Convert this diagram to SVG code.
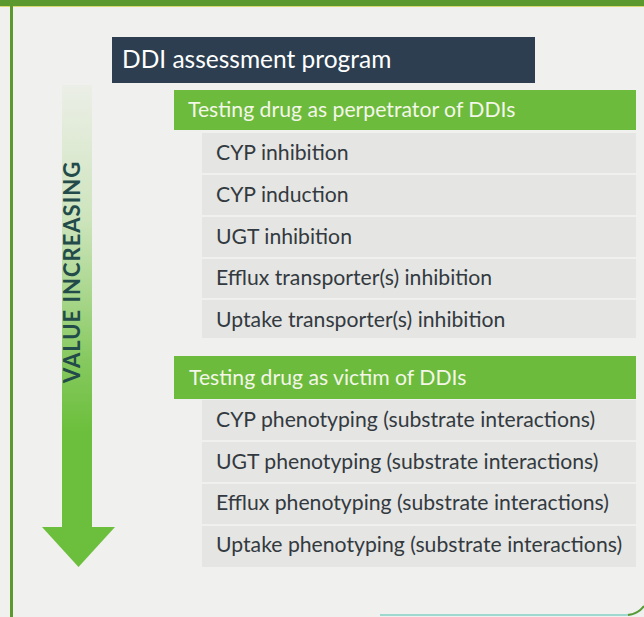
<svg xmlns="http://www.w3.org/2000/svg" width="644" height="617" viewBox="0 0 644 617">
  <defs>
    <linearGradient id="shaftFade" x1="0" y1="0" x2="0" y2="1">
      <stop offset="0" stop-color="#8fd05a" stop-opacity="0.05"/>
      <stop offset="0.3" stop-color="#7cc84a" stop-opacity="0.3"/>
      <stop offset="0.62" stop-color="#6cbf3c" stop-opacity="0.8"/>
      <stop offset="0.78" stop-color="#6cbf3c"/>
      <stop offset="1" stop-color="#6cbf3c"/>
    </linearGradient>
    <style>
      .head { fill: #2c3e50; }
      .band { fill: #6cbb3c; }
      .bandText { font-family: Lato, "Noto Sans", sans-serif; font-size: 21.2px; fill: #f3f6e8; }
      .headText { font-family: Lato, "Noto Sans", sans-serif; font-size: 24.5px; fill: #ffffff; }
      .row { fill: #e5e5e3; }
      .rowText { font-family: Lato, "Noto Sans", sans-serif; font-size: 21.2px; fill: #333a3f; }
      .axisText { font-family: Lato, "Noto Sans", sans-serif; font-size: 22px; font-weight: bold; fill: #234b4a; letter-spacing: 1px; }
    </style>
  </defs>

  <!-- page -->
  <rect x="0" y="0" width="644" height="617" fill="#f0f0ee"/>
  <rect x="0" y="0" width="644" height="6" fill="#5b992e"/>
  <rect x="0" y="6" width="644" height="1" fill="#d8d870"/>
  <rect x="10" y="6" width="3" height="611" fill="#5b992e"/>
  <path d="M 380 615 H 626 Q 638 615 644 606" fill="none" stroke="#9fd8cf" stroke-width="2"/>
  <path d="M 628 615 Q 638 614 644 606" fill="none" stroke="#5b992e" stroke-width="2"/>

  <!-- value axis arrow -->
  <g id="value-arrow">
    <rect x="62" y="85" width="30" height="444" fill="url(#shaftFade)"/>
    <polygon points="42,527 115,527 78.5,567" fill="#6cbf3c"/>
    <text class="axisText" transform="translate(80,272) rotate(-90)" text-anchor="middle">VALUE INCREASING</text>
  </g>

  <!-- program header -->
  <g id="program">
    <rect class="head" x="112" y="37" width="423" height="46"/>
    <text class="headText" x="122" y="68">DDI assessment program</text>
  </g>

  <!-- perpetrator section -->
  <g id="perpetrator">
    <rect class="band" x="174" y="90" width="462" height="40"/>
    <text class="bandText" x="188" y="117">Testing drug as perpetrator of DDIs</text>
  </g>
  <g id="cyp-inhibition">
    <rect class="row" x="202" y="133" width="434" height="40"/>
    <text class="rowText" x="216" y="160">CYP inhibition</text>
  </g>
  <g id="cyp-induction">
    <rect class="row" x="202" y="175" width="434" height="40"/>
    <text class="rowText" x="216" y="202">CYP induction</text>
  </g>
  <g id="ugt-inhibition">
    <rect class="row" x="202" y="217" width="434" height="40"/>
    <text class="rowText" x="216" y="244">UGT inhibition</text>
  </g>
  <g id="efflux-inhibition">
    <rect class="row" x="202" y="259" width="434" height="39"/>
    <text class="rowText" x="216" y="285">Efflux transporter(s) inhibition</text>
  </g>
  <g id="uptake-inhibition">
    <rect class="row" x="202" y="300" width="434" height="38"/>
    <text class="rowText" x="216" y="327">Uptake transporter(s) inhibition</text>
  </g>

  <!-- victim section -->
  <g id="victim">
    <rect class="band" x="174" y="356" width="462" height="43"/>
    <text class="bandText" x="189" y="385">Testing drug as victim of DDIs</text>
  </g>
  <g id="cyp-phenotyping">
    <rect class="row" x="202" y="400" width="434" height="40"/>
    <text class="rowText" x="216" y="427">CYP phenotyping (substrate interactions)</text>
  </g>
  <g id="ugt-phenotyping">
    <rect class="row" x="202" y="442" width="434" height="40"/>
    <text class="rowText" x="216" y="469">UGT phenotyping (substrate interactions)</text>
  </g>
  <g id="efflux-phenotyping">
    <rect class="row" x="202" y="484" width="434" height="40"/>
    <text class="rowText" x="216" y="510">Efflux phenotyping (substrate interactions)</text>
  </g>
  <g id="uptake-phenotyping">
    <rect class="row" x="202" y="526" width="434" height="41"/>
    <text class="rowText" x="216" y="552">Uptake phenotyping (substrate interactions)</text>
  </g>
</svg>
